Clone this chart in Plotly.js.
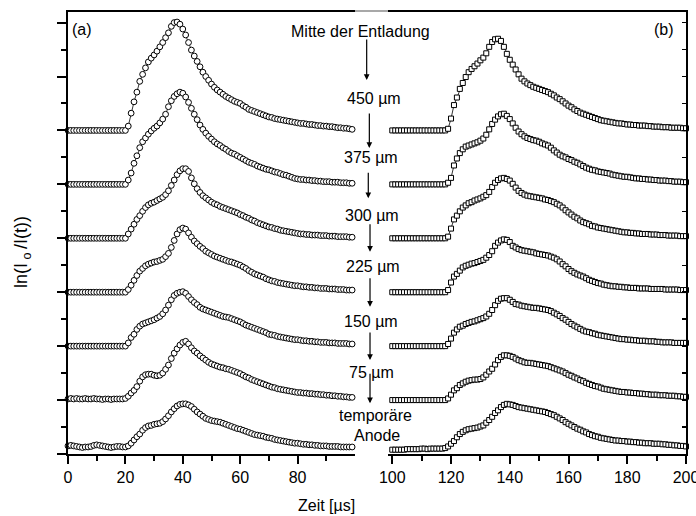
<!DOCTYPE html>
<html><head><meta charset="utf-8">
<script src="https://cdn.plot.ly/plotly-3.0.1.min.js"></script>
<style>html,body{margin:0;padding:0;background:#fff}#chart{width:696px;height:516px}</style>
</head><body><div id="chart"></div>
<script>
// ---- panel (a): time 0..99 µs, 1 µs step; values are height above each curve's baseline ----
const offsetsA = [0, 1, 2, 3, 4, 5, 6];
const L0 = [0.15,0.16,0.15,0.14,0.13,0.12,0.13,0.13,0.14,0.16,
0.17,0.16,0.15,0.14,0.13,0.12,0.13,0.14,0.14,0.13,
0.13,0.15,0.20,0.26,0.32,0.37,0.44,0.49,0.52,0.53,
0.55,0.56,0.57,0.60,0.65,0.71,0.78,0.84,0.89,0.92,
0.93,0.93,0.91,0.88,0.83,0.78,0.74,0.70,0.66,0.64,
0.62,0.61,0.60,0.59,0.57,0.55,0.53,0.51,0.49,0.47,
0.46,0.44,0.42,0.40,0.38,0.36,0.35,0.34,0.33,0.31,
0.30,0.29,0.27,0.26,0.25,0.24,0.23,0.22,0.21,0.20,
0.20,0.19,0.18,0.18,0.17,0.17,0.16,0.16,0.15,0.15,
0.15,0.14,0.14,0.14,0.14,0.13,0.13,0.13,0.13,0.13];
const L1 = [0.02,0.03,0.02,0.03,0.02,0.02,0.03,0.02,0.02,0.03,
0.02,0.02,0.01,0.02,0.02,0.01,0.02,0.02,0.02,0.02,0.03,
0.07,0.13,0.18,0.25,0.35,0.43,0.47,0.48,0.48,0.46,
0.45,0.46,0.50,0.57,0.65,0.77,0.87,0.95,1.02,1.07,
1.09,1.04,0.97,0.91,0.87,0.82,0.78,0.74,0.70,0.67,
0.65,0.63,0.61,0.60,0.58,0.57,0.55,0.53,0.51,0.49,
0.46,0.43,0.41,0.38,0.36,0.34,0.32,0.30,0.28,0.26,
0.24,0.23,0.21,0.20,0.19,0.18,0.17,0.16,0.15,0.14,
0.14,0.13,0.13,0.12,0.12,0.11,0.11,0.10,0.10,0.09,
0.09,0.08,0.08,0.07,0.07,0.06,0.06,0.05,0.05];
const L2 = [0,0,0,0,0,0,0,0,0,0,0,0,0,0,0,0,0,0,0,0,0,
0.06,0.16,0.22,0.31,0.37,0.41,0.43,0.45,0.47,0.49,
0.52,0.55,0.60,0.67,0.76,0.86,0.94,0.98,1.00,1.01,
0.98,0.92,0.86,0.81,0.77,0.72,0.69,0.67,0.65,0.63,
0.61,0.59,0.57,0.55,0.54,0.53,0.51,0.49,0.47,0.45,
0.42,0.39,0.37,0.35,0.33,0.31,0.29,0.27,0.25,0.22,
0.21,0.20,0.18,0.17,0.16,0.15,0.14,0.13,0.12,0.12,
0.11,0.10,0.10,0.09,0.09,0.08,0.08,0.07,0.07,0.07,
0.06,0.06,0.06,0.05,0.05,0.05,0.05,0.04,0.04];
const L3 = [0,0,0,0,0,0,0,0,0,0,0,0,0,0,0,0,0,0,0,0,0,
0.05,0.13,0.22,0.31,0.39,0.44,0.49,0.52,0.54,0.56,
0.57,0.59,0.61,0.66,0.72,0.83,0.96,1.08,1.16,1.19,
1.17,1.10,1.02,0.95,0.90,0.85,0.81,0.76,0.73,0.70,
0.67,0.65,0.63,0.61,0.59,0.57,0.56,0.54,0.52,0.50,
0.47,0.44,0.40,0.37,0.34,0.32,0.30,0.28,0.25,0.23,
0.21,0.20,0.18,0.17,0.16,0.15,0.14,0.13,0.12,0.12,
0.11,0.10,0.10,0.09,0.09,0.08,0.08,0.07,0.07,0.07,
0.06,0.06,0.06,0.05,0.05,0.05,0.04,0.04,0.04];
const L4 = [0,0,0,0,0,0,0,0,0,0,0,0,0,0,0,0,0,0,0,0,0,
0.08,0.17,0.26,0.35,0.42,0.50,0.57,0.62,0.65,0.67,
0.70,0.73,0.76,0.81,0.88,0.98,1.08,1.18,1.25,1.29,
1.29,1.24,1.12,1.01,0.92,0.85,0.79,0.75,0.71,0.67,
0.64,0.62,0.59,0.57,0.55,0.53,0.51,0.49,0.47,0.44,
0.42,0.39,0.37,0.34,0.32,0.29,0.27,0.25,0.23,0.21,
0.20,0.18,0.17,0.15,0.14,0.13,0.12,0.11,0.10,0.09,
0.08,0.08,0.07,0.07,0.06,0.06,0.06,0.05,0.05,0.05,
0.04,0.04,0.04,0.03,0.03,0.03,0.03,0.02,0.02];
const L5 = [0,0,0,0,0,0,0,0,0,0,0,0,0,0,0,0,0,0,0,0,0,
0.08,0.21,0.39,0.53,0.68,0.79,0.86,0.93,0.99,1.04,
1.08,1.14,1.21,1.30,1.44,1.55,1.63,1.68,1.71,1.69,
1.62,1.52,1.41,1.30,1.20,1.10,1.02,0.95,0.89,0.84,
0.79,0.75,0.72,0.68,0.65,0.61,0.58,0.56,0.53,0.50,
0.47,0.44,0.41,0.39,0.37,0.34,0.32,0.30,0.28,0.27,
0.25,0.23,0.22,0.20,0.18,0.17,0.15,0.13,0.11,0.10,
0.09,0.09,0.08,0.08,0.07,0.07,0.06,0.06,0.05,0.05,
0.05,0.04,0.04,0.04,0.03,0.03,0.03,0.02,0.02];
const L6 = [0,0,0,0,0,0,0,0,0,0,0,0,0,0,0,0,0,0,0,0,0,
0.08,0.32,0.53,0.71,0.91,1.04,1.16,1.27,1.34,1.40,
1.47,1.55,1.63,1.72,1.81,1.93,2.00,2.01,1.97,1.88,
1.77,1.63,1.49,1.38,1.28,1.18,1.08,1.00,0.93,0.86,
0.80,0.75,0.71,0.67,0.63,0.60,0.57,0.54,0.52,0.50,
0.46,0.43,0.39,0.37,0.35,0.33,0.31,0.29,0.27,0.25,
0.24,0.22,0.21,0.20,0.19,0.18,0.17,0.16,0.15,0.14,
0.13,0.13,0.12,0.11,0.11,0.10,0.09,0.09,0.08,0.08,
0.07,0.07,0.06,0.05,0.05,0.04,0.04,0.03,0.02];
const startA = 0;

// ---- panel (b): time 100..200 µs, 1 µs step ----
const offsetsB = [0, 1, 2, 3, 4, 5, 6];
const R0 = [0.08,0.08,0.08,0.08,0.08,0.09,0.09,0.09,0.09,0.09,
0.10,0.10,0.09,0.10,0.10,0.10,0.10,0.10,0.11,
0.14,0.19,0.24,0.31,0.37,0.41,0.44,0.46,0.47,0.48,
0.49,0.51,0.53,0.58,0.63,0.69,0.76,0.81,0.87,0.91,
0.93,0.92,0.91,0.89,0.87,0.86,0.85,0.84,0.83,0.82,
0.81,0.80,0.79,0.78,0.76,0.74,0.72,0.69,0.66,0.63,
0.59,0.56,0.53,0.50,0.47,0.45,0.42,0.40,0.37,0.35,
0.33,0.32,0.30,0.29,0.28,0.27,0.26,0.25,0.25,0.24,
0.24,0.23,0.23,0.22,0.22,0.21,0.21,0.20,0.20,0.20,
0.19,0.19,0.19,0.18,0.18,0.17,0.17,0.16,0.16,0.15,
0.15,0.14];
const R1 = [0,0,0,0,0,0,0,0,0,0,0,0,0,0,0,0,0,0,0,
0.03,0.10,0.18,0.22,0.28,0.31,0.34,0.36,0.37,0.38,
0.38,0.39,0.42,0.47,0.53,0.58,0.66,0.74,0.80,0.83,
0.83,0.82,0.80,0.77,0.74,0.72,0.70,0.69,0.69,0.68,
0.67,0.66,0.65,0.64,0.63,0.61,0.59,0.57,0.55,0.53,
0.50,0.47,0.45,0.42,0.40,0.37,0.35,0.32,0.30,0.28,
0.26,0.25,0.23,0.21,0.20,0.19,0.18,0.17,0.16,0.15,
0.15,0.14,0.14,0.13,0.13,0.12,0.12,0.11,0.11,0.10,
0.10,0.10,0.09,0.09,0.09,0.08,0.08,0.08,0.07,0.07,
0.06,0.06];
const R2 = [0,0,0,0,0,0,0,0,0,0,0,0,0,0,0,0,0,0,0,
0.04,0.14,0.25,0.31,0.36,0.38,0.41,0.43,0.45,0.46,
0.48,0.50,0.52,0.55,0.60,0.67,0.76,0.84,0.88,0.89,
0.89,0.86,0.82,0.78,0.77,0.75,0.74,0.73,0.72,0.71,
0.71,0.70,0.69,0.68,0.67,0.65,0.62,0.59,0.56,0.52,
0.49,0.45,0.41,0.38,0.35,0.32,0.29,0.27,0.26,0.24,
0.23,0.21,0.20,0.19,0.18,0.17,0.16,0.15,0.14,0.13,
0.13,0.12,0.12,0.11,0.11,0.10,0.10,0.10,0.09,0.09,
0.09,0.08,0.08,0.07,0.07,0.07,0.07,0.06,0.06,0.06,
0.06,0.06];
const R3 = [0,0,0,0,0,0,0,0,0,0,0,0,0,0,0,0,0,0,0,
0.04,0.18,0.29,0.34,0.40,0.46,0.49,0.51,0.53,0.54,
0.56,0.58,0.60,0.64,0.69,0.76,0.86,0.92,0.96,0.98,
0.97,0.93,0.86,0.83,0.80,0.78,0.77,0.76,0.75,0.74,
0.72,0.71,0.70,0.69,0.68,0.66,0.64,0.61,0.57,0.52,
0.48,0.43,0.39,0.36,0.33,0.31,0.29,0.26,0.23,0.21,
0.19,0.17,0.16,0.14,0.13,0.12,0.11,0.11,0.10,0.10,
0.09,0.09,0.08,0.08,0.08,0.07,0.07,0.07,0.07,0.06,
0.06,0.06,0.06,0.06,0.05,0.05,0.05,0.05,0.05,0.04,
0.04,0.04];
const R4 = [0,0,0,0,0,0,0,0,0,0,0,0,0,0,0,0,0,0,0,
0.03,0.18,0.35,0.42,0.50,0.57,0.61,0.65,0.67,0.70,
0.72,0.74,0.77,0.80,0.86,0.95,1.03,1.08,1.11,1.12,
1.10,1.07,1.01,0.94,0.88,0.84,0.81,0.79,0.78,0.77,
0.76,0.75,0.74,0.72,0.71,0.69,0.67,0.64,0.61,0.57,
0.52,0.48,0.44,0.40,0.37,0.33,0.30,0.28,0.26,0.23,
0.22,0.20,0.19,0.18,0.17,0.16,0.15,0.14,0.13,0.12,
0.11,0.11,0.10,0.10,0.09,0.09,0.08,0.08,0.08,0.07,
0.07,0.07,0.06,0.06,0.06,0.05,0.05,0.05,0.05,0.04,
0.04,0.04];
const R5 = [0,0,0,0,0,0,0,0,0,0,0,0,0,0,0,0,0,0,0,
0.03,0.12,0.35,0.48,0.58,0.65,0.70,0.72,0.74,0.76,
0.78,0.81,0.85,0.92,1.02,1.12,1.20,1.26,1.30,1.31,
1.27,1.21,1.13,1.05,0.98,0.93,0.89,0.86,0.84,0.82,
0.81,0.79,0.76,0.74,0.72,0.68,0.63,0.59,0.55,0.52,
0.50,0.47,0.45,0.42,0.40,0.37,0.34,0.31,0.29,0.27,
0.26,0.24,0.23,0.22,0.21,0.20,0.18,0.17,0.16,0.15,
0.14,0.14,0.13,0.12,0.11,0.11,0.10,0.10,0.09,0.09,
0.08,0.08,0.07,0.07,0.07,0.06,0.06,0.05,0.05,0.05,
0.04,0.04];
const R6 = [0,0,0,0,0,0,0,0,0,0,0,0,0,0,0,0,0,0,0,
0.03,0.22,0.47,0.61,0.77,0.88,0.99,1.08,1.14,1.19,
1.24,1.30,1.35,1.43,1.55,1.64,1.69,1.70,1.66,1.55,
1.42,1.31,1.22,1.13,1.04,0.96,0.91,0.87,0.84,0.81,
0.79,0.77,0.75,0.73,0.71,0.68,0.65,0.61,0.58,0.54,
0.50,0.46,0.43,0.39,0.36,0.33,0.31,0.29,0.27,0.25,
0.23,0.21,0.19,0.18,0.17,0.16,0.15,0.14,0.13,0.13,
0.12,0.11,0.11,0.10,0.10,0.09,0.09,0.09,0.08,0.08,
0.07,0.07,0.07,0.06,0.06,0.06,0.05,0.05,0.05,0.05,
0.04,0.04];
const startB = 100;

const seriesA = [L0, L1, L2, L3, L4, L5, L6];
const seriesB = [R0, R1, R2, R3, R4, R5, R6];
const ticksA = [0, 20, 40, 60, 80];
const minorA = [10, 30, 50, 70, 90];
const ticksB = [100, 120, 140, 160, 180, 200];
const minorB = [110, 130, 150, 170, 190];
const yMajor = [0, 1, 2, 3, 4, 5, 6, 7, 8];
const yMinor = [0.5, 1.5, 2.5, 3.5, 4.5, 5.5, 6.5, 7.5];
const distanceLabels = ['Mitte der Entladung', '450 µm', '375 µm', '300 µm', '225 µm', '150 µm', '75 µm', 'temporäre', 'Anode'];

const FONT = 'Liberation Sans, Arial, Helvetica, sans-serif';
const traces = [];
seriesA.forEach((s, i) => {
  traces.push({
    type: 'scatter', mode: 'lines+markers', xaxis: 'x', yaxis: 'y',
    x: s.map((_, k) => startA + k), y: s.map(v => v + offsetsA[i]),
    line: {color: '#000', width: 0.8},
    marker: {symbol: 'circle', size: 5.8, color: '#fff', line: {color: '#000', width: 1}},
    hoverinfo: 'skip', cliponaxis: false
  });
});
seriesB.forEach((s, i) => {
  traces.push({
    type: 'scatter', mode: 'lines+markers', xaxis: 'x2', yaxis: 'y2',
    x: s.map((_, k) => startB + k), y: s.map(v => v + offsetsB[i]),
    line: {color: '#000', width: 0.8},
    marker: {symbol: 'square', size: 5, color: '#fff', line: {color: '#000', width: 1}},
    hoverinfo: 'skip', cliponaxis: false
  });
});

const xBase = {
  ticks: 'outside', ticklen: 8, tickwidth: 2, tickcolor: '#000',
  showline: true, linewidth: 2, linecolor: '#000', mirror: true,
  showgrid: false, zeroline: false, automargin: false, ticklabeloverflow: 'allow',
  tickfont: {family: FONT, size: 16, color: '#000'}
};
const yRange = [0, 8.196];
const layout = {
  width: 696, height: 516,
  margin: {l: 68, r: 10, t: 12, b: 62, pad: 0},
  paper_bgcolor: '#fff', plot_bgcolor: '#fff', showlegend: false,
  font: {family: FONT, size: 16, color: '#000'},
  xaxis: Object.assign({}, xBase, {
    domain: [0, 0.4644], range: [0, 100], anchor: 'y',
    tickmode: 'array', tickvals: ticksA,
    minor: {tickmode: 'array', tickvals: minorA, ticks: 'outside', ticklen: 5, tickwidth: 2, tickcolor: '#000', showgrid: false}
  }),
  xaxis2: Object.assign({}, xBase, {
    domain: [0.5178, 1], range: [98.54, 200], anchor: 'y2',
    tickmode: 'array', tickvals: ticksB,
    minor: {tickmode: 'array', tickvals: minorB, ticks: 'outside', ticklen: 5, tickwidth: 2, tickcolor: '#000', showgrid: false}
  }),
  yaxis: {
    domain: [0, 1], range: yRange, anchor: 'x',
    tickmode: 'array', tickvals: yMajor, ticks: 'outside', ticklen: 9, tickwidth: 2, tickcolor: '#000',
    showticklabels: false, showline: true, linewidth: 2, linecolor: '#000',
    showgrid: false, zeroline: false, automargin: false,
    minor: {tickmode: 'array', tickvals: yMinor, ticks: 'outside', ticklen: 5, tickwidth: 2, tickcolor: '#000', showgrid: false}
  },
  yaxis2: {
    domain: [0, 1], range: yRange, anchor: 'x2', side: 'right',
    tickmode: 'array', tickvals: yMajor, ticks: 'inside', ticklen: 4, tickwidth: 1.5, tickcolor: '#000',
    showticklabels: false, showline: true, linewidth: 2, linecolor: '#000',
    showgrid: false, zeroline: false, automargin: false,
    minor: {tickmode: 'array', tickvals: yMinor, ticks: 'inside', ticklen: 4, tickwidth: 1.5, tickcolor: '#000', showgrid: false}
  },
  shapes: [
    {type: 'line', xref: 'paper', yref: 'paper', x0: 0.4644, x1: 0.5178, y0: 1.002, y1: 1.002, line: {color: '#a8a8a8', width: 2}}
  ],
  annotations: []
};

function txt(t, x, y, opts) {
  layout.annotations.push(Object.assign({
    text: t, x: x, y: y, xref: 'paper', yref: 'paper', showarrow: false,
    xanchor: 'center', yanchor: 'middle', font: {family: FONT, size: 16, color: '#000'}
  }, opts || {}));
}
function arrow(x, yHead, len) {
  layout.annotations.push({
    text: '', x: x, y: yHead, xref: 'paper', yref: 'paper', showarrow: true,
    ax: 0, ay: -len, axref: 'pixel', ayref: 'pixel',
    arrowhead: 2, arrowsize: 0.95, arrowwidth: 1.2, arrowcolor: '#000', standoff: 0, startstandoff: 0
  });
}

txt('(a)', 0.0227, 0.9615);
txt('(b)', 0.9652, 0.9615);
txt(distanceLabels[0], 0.4725, 0.957);
arrow(0.4833, 0.8462, 42);
txt(distanceLabels[1], 0.4951, 0.8032);
arrow(0.4876, 0.6923, 36);
txt(distanceLabels[2], 0.4903, 0.6697);
arrow(0.4859, 0.5785, 27);
txt(distanceLabels[3], 0.4927, 0.5385);
arrow(0.4887, 0.4577, 29);
txt(distanceLabels[4], 0.4935, 0.4238);
arrow(0.4887, 0.3333, 30);
txt(distanceLabels[5], 0.4903, 0.2998);
arrow(0.4887, 0.2127, 29);
txt(distanceLabels[6], 0.4911, 0.1833);
arrow(0.4887, 0.1147, 31);
txt(distanceLabels[7], 0.4968, 0.0882);
txt(distanceLabels[8], 0.4995, 0.0414);
txt('Zeit [µs]', 0.4183, -0.1154);
txt('ln(I<sub>\u00A0o\u00A0</sub>/I(t))', -0.0744, 0.457, {textangle: -90, font: {family: FONT, size: 18, color: '#000'}});

Plotly.newPlot('chart', traces, layout, {staticPlot: true, displayModeBar: false});
</script>
</body></html>
